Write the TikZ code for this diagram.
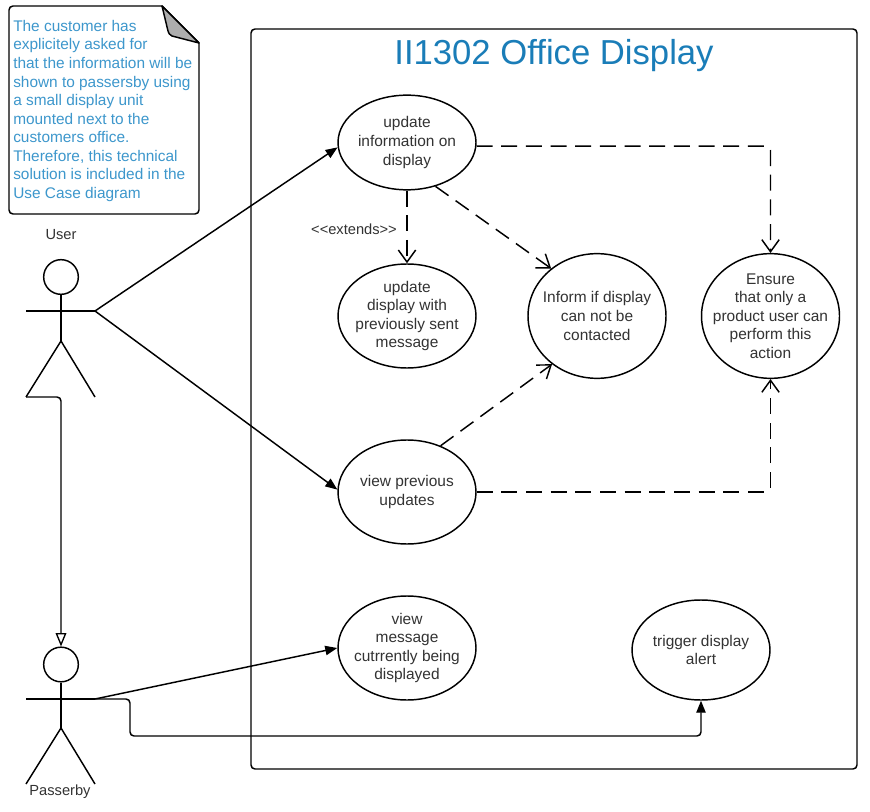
\documentclass[tikz,border=0pt]{standalone}
\usepackage{fontspec}
\setmainfont{Liberation Sans}
\usetikzlibrary{arrows.meta,shapes.geometric}
\definecolor{txt}{HTML}{333333}
\definecolor{blu}{HTML}{3D97CC}
\definecolor{ttl}{HTML}{1A7DB8}
\tikzset{
  x=0.75pt,y=-0.75pt,
  line/.style={line width=1.1pt,black},
  usecase/.style={draw,line width=1.1pt,ellipse,inner sep=-30pt,minimum width=103.5pt,align=center,text=txt,font=\fontsize{11.6}{13.9}\selectfont},
  head/.style={draw,line width=1.1pt,circle,inner sep=0pt,minimum size=26pt},
  lbl/.style={text=txt,inner sep=0pt,font=\fontsize{11}{13.9}\selectfont},
  solidarrow/.style={line,-{Triangle[length=9pt,width=7pt]}},
  dep/.style={line,dash pattern=on 12pt off 6.5pt,-{Straight Barb[length=9pt,width=13pt,line width=1.1pt]}},
  genarrow/.style={line,rounded corners=3pt,-{Triangle[open,length=10pt,width=8pt,line width=1pt,fill=white]}}
}
\begin{document}
\begin{tikzpicture}
\useasboundingbox (0,0) rectangle (870,812);
\fill[white] (0,0) rectangle (870,812);
% system frame
\draw[line,rounded corners=3pt] (251,29) rectangle (857,769);
\node[text=ttl,font=\fontsize{26}{30}\selectfont,inner sep=0pt] (title) at (554,56) {II1302 Office Display};
% note
\draw[line,rounded corners=3pt] (162,6) -- (9,6) -- (9,214) -- (199,214) -- (199,43);
\draw[line] (162,6) -- (199,43);
\filldraw[line,fill=black!32,line join=round] (162,6) -- (199,43) -- (172,36) .. controls (169,35) and (169,33) .. (168,31) -- cycle;
\node[anchor=north west,inner sep=0pt,text=blu,align=left,font=\fontsize{11.55}{13.9}\selectfont] (note) at (13,20) {The customer has\\explicitely asked for\\that the information will be\\shown to passersby using\\a small display unit\\mounted next to the\\customers office.\\Therefore, this technical\\solution is included in the\\Use Case diagram};
% actors
\node[head] (userhead) at (61,277) {};
\coordinate (userhip) at (61,341);
\coordinate (userlarm) at (26,311);
\coordinate (userrarm) at (95,311);
\coordinate (userlleg) at (26,397);
\coordinate (userrleg) at (95,397);
\draw[line] (userhead) -- (userhip);
\draw[line] (userlarm) -- (userrarm);
\draw[line,line join=round] (userlleg) -- (userhip) -- (userrleg);
\node[lbl] (userlabel) at (61,235) {User};
\node[head] (passhead) at (61,664.5) {};
\coordinate (pasship) at (61,728);
\coordinate (passlarm) at (26,699);
\coordinate (passrarm) at (95,699);
\coordinate (passlleg) at (26,784);
\coordinate (passrleg) at (95,784);
\draw[line] (passhead) -- (pasship);
\draw[line] (passlarm) -- (passrarm);
\draw[line,line join=round] (passlleg) -- (pasship) -- (passrleg);
\node[lbl] (passlabel) at (60,792) {Passerby};
% use cases
\node[usecase,minimum height=71pt] (update) at (407,142.5) {\raisebox{-1.5pt}{\parbox{100pt}{\centering update\\information on\\display}}};
\node[usecase,minimum height=78pt] (prevsent) at (407,316) {\raisebox{1.5pt}{\parbox{100pt}{\centering update\\display with\\previously sent\\message}}};
\node[usecase,minimum height=78pt] (viewprev) at (407,492) {\raisebox{1.2pt}{\parbox{100pt}{\centering view previous\\updates}}};
\node[usecase,minimum height=78pt] (viewmsg) at (407,648) {\raisebox{1.5pt}{\parbox{100pt}{\centering view\\message\\cutrrently being\\displayed}}};
\node[usecase,minimum height=75pt] (trigger) at (701,650) {\raisebox{3.2pt}{\parbox{100pt}{\centering trigger display\\alert}}};
\node[usecase,minimum height=93.5pt] (inform) at (597,316) {\raisebox{1.5pt}{\parbox{100pt}{\centering Inform if display\\can not be\\contacted}}};
\node[usecase,minimum height=93.5pt] (ensure) at (770.5,316) {\raisebox{1.5pt}{\parbox{100pt}{\centering Ensure\\that only a\\product user can\\perform this\\action}}};
% connectors
\draw[solidarrow] (userrarm) -- (update.184);
\draw[solidarrow] (userrarm) -- (viewprev.178);
\draw[solidarrow] (passrarm) -- (viewmsg.west);
\draw[solidarrow,rounded corners=3pt] (passrarm) -- (130,699) -- (130,736) -- (701,736) -- (trigger.south);
\draw[genarrow] (userlleg) -- (61,397) -- (passhead.north);
\draw[dep] (update.south) -- (prevsent.north);
\node[lbl] (extends) at (354,229) {<{}<extends>{}>};
\draw[dep] (update.-57) -- (inform.134);
\draw[dep] (viewprev.54) -- (inform.-133);
\draw[dep,rounded corners=3pt] (update.-3) -| (ensure.north);
\draw[dep,rounded corners=3pt] (viewprev.east) -| (ensure.south);
\end{tikzpicture}
\end{document}
